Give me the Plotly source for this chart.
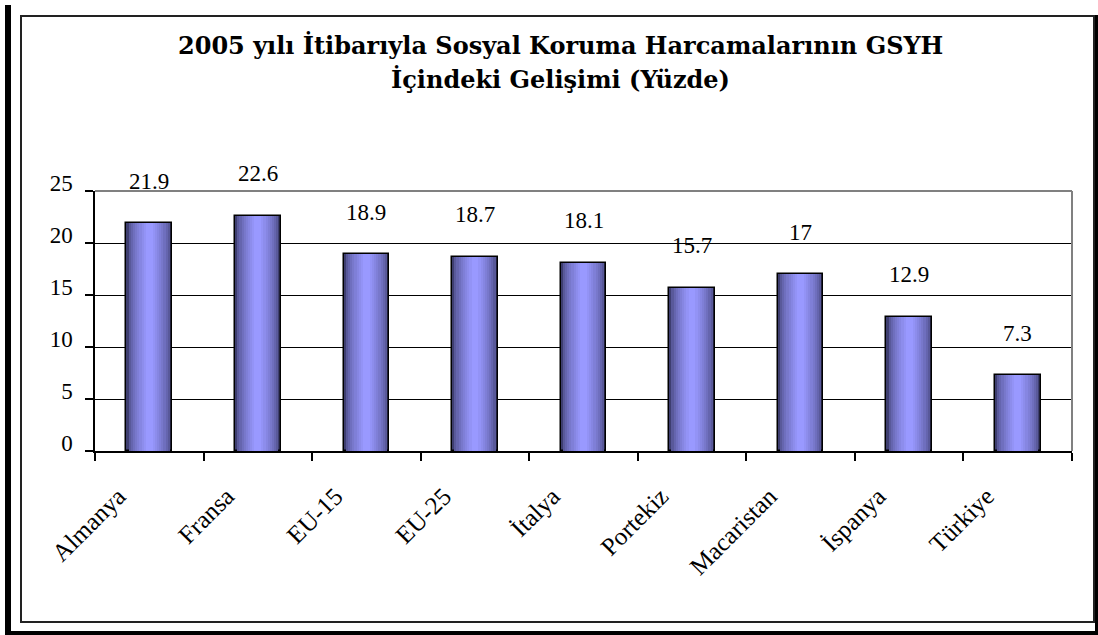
import plotly.graph_objects as go

categories = ["Almanya", "Fransa", "EU-15", "EU-25", "İtalya", "Portekiz", "Macaristan", "İspanya", "Türkiye"]
values = [21.9, 22.6, 18.9, 18.7, 18.1, 15.7, 17, 12.9, 7.3]
labels = ["21.9", "22.6", "18.9", "18.7", "18.1", "15.7", "17", "12.9", "7.3"]
y_ticks = [0, 5, 10, 15, 20, 25]

W, H = 1098, 635
L, R, T, B = 95, 26, 191, 184
PW, PH = W - L - R, H - T - B

def px(x):
    return (x - L) / PW

def py(y):
    return (H - B - y) / PH

SERIF = "Liberation Serif"
TITLE_FONT = "DejaVu Serif"

fig = go.Figure()

# gradient "cylinder" bars built from overlaid bars of decreasing width
bar_w = 0.42
n_layers = 10
dark = (62, 62, 112)
light = (153, 153, 255)
for i in range(n_layers):
    t = i / (n_layers - 1)
    f = t ** 0.55
    c = tuple(int(dark[k] + (light[k] - dark[k]) * f) for k in range(3))
    w = bar_w * (1 - 0.85 * t)
    fig.add_trace(go.Bar(
        x=categories, y=values, width=w,
        marker=dict(color="rgb(%d,%d,%d)" % c,
                    line=dict(color="black", width=1.5 if i == 0 else 0)),
        hoverinfo="skip" if i else "x+y", showlegend=False,
    ))

for c, v, lab in zip(categories, values, labels):
    fig.add_annotation(x=c, y=v, text=lab, showarrow=False, yshift=42,
                       yanchor="middle", font=dict(family=SERIF, size=23, color="black"))

# title (two lines)
fig.add_annotation(x=px(560), y=py(45), xref="paper", yref="paper", showarrow=False,
                   text="<b>2005 yılı İtibarıyla Sosyal Koruma Harcamalarının GSYH</b>",
                   font=dict(family=TITLE_FONT, size=24, color="black"), yanchor="middle")
fig.add_annotation(x=px(560), y=py(80), xref="paper", yref="paper", showarrow=False,
                   text="<b>İçindeki Gelişimi (Yüzde)</b>",
                   font=dict(family=TITLE_FONT, size=24, color="black"), yanchor="middle")

shapes = [
    # plot area top and right border (gray)
    dict(type="line", xref="x domain", yref="y domain", x0=0, x1=1, y0=1, y1=1,
         line=dict(color="#808080", width=2), layer="above"),
    dict(type="line", xref="x domain", yref="y domain", x0=1, x1=1, y0=0, y1=1,
         line=dict(color="#808080", width=2), layer="above"),
    # chart frame
    dict(type="rect", xref="paper", yref="paper", x0=px(21), x1=px(1094), y0=py(16), y1=py(622),
         line=dict(color="#222222", width=2), layer="above"),
    dict(type="rect", xref="paper", yref="paper", x0=px(5), x1=px(11), y0=py(5), y1=py(635),
         line=dict(width=0), fillcolor="black", layer="above"),
    dict(type="rect", xref="paper", yref="paper", x0=px(5), x1=px(1098), y0=py(631), y1=py(635),
         line=dict(width=0), fillcolor="black", layer="above"),
    dict(type="rect", xref="paper", yref="paper", x0=px(1095), x1=px(1098), y0=py(15), y1=py(635),
         line=dict(width=0), fillcolor="black", layer="above"),
]

fig.update_layout(
    width=W, height=H,
    margin=dict(l=L, r=R, t=T, b=B),
    paper_bgcolor="white", plot_bgcolor="white",
    barmode="overlay",
    bargap=0,
    shapes=shapes,
    font=dict(family=SERIF, size=20, color="black"),
)
fig.update_xaxes(
    type="category", tickson="boundaries", ticks="outside", ticklen=8, tickwidth=1.5,
    tickcolor="black", showline=True, linecolor="black", linewidth=1.5,
    tickangle=-45, tickfont=dict(family=SERIF, size=25, color="black"),
    showgrid=False, ticklabelstandoff=19, ticklabelshift=-31,
)
fig.update_yaxes(
    range=[0, 25], tickvals=y_ticks, ticks="outside", ticklen=8, tickwidth=1.5,
    tickcolor="black", showline=True, linecolor="black", linewidth=1.5,
    showgrid=True, gridcolor="black", gridwidth=1.2, zeroline=False,
    tickfont=dict(family=SERIF, size=23, color="black"),
    ticklabelstandoff=8, ticklabelshift=-8,
)

fig.write_html("out.html", config={"displayModeBar": False},
               post_script="document.body.style.margin='0px';document.body.style.overflow='hidden';")
